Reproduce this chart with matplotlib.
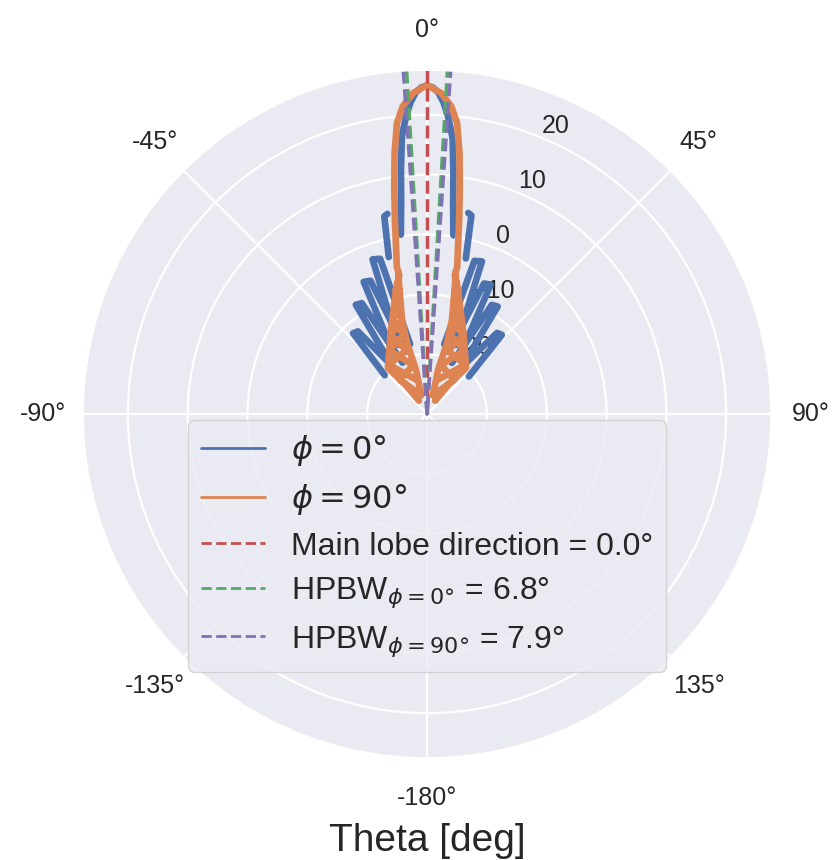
import matplotlib
matplotlib.use("Agg")
import matplotlib.pyplot as plt
import numpy as np
import seaborn as sns

sns.set_theme(style="darkgrid")
plt.rcParams["font.family"] = ["Liberation Sans", "DejaVu Sans"]
plt.rcParams["grid.linewidth"] = 1.6

# gain values below the -30 dB floor (-40 here) are not drawn by the polar axes
FLOOR_GAP = -40

# phi = 0 cut (theta in degrees, gain in dB)
theta_phi0 = [-47.5, -42.5, -39.9, -34.5, -34.0,
              -36.0, -33.1, -30.5, -25.5, -25.0,
              -29.0, -25.6, -23.0, -18.5, -18.3,
              -22.5, -19.4, -16.8, -13.6, -13.5,
              -13.7, -12.2, -11.2, -10.6,
              -9.0, -8.3, -7.0, -6.1, -5.2, -4.0, -3.0, -2.0, -1.0, 0.0,
              1.0, 2.0, 3.0, 4.0, 5.3, 6.2, 7.1, 8.4, 9.1,
              10.9, 11.6, 12.6, 14.0,
              13.8, 13.9, 17.2, 19.8, 22.8,
              18.7, 19.1, 23.6, 26.2, 29.3,
              25.7, 26.0, 30.7, 33.3, 36.3,
              34.7, 35.1, 40.8, 43.4, 48.1]
gain_phi0 = [-20.4, -11.7, -12.0, -21.5, FLOOR_GAP,
             -20.0, -8.2, -8.5, -20.5, FLOOR_GAP,
             -18.5, -5.5, -5.8, -19.0, FLOOR_GAP,
             -17.5, -2.6, -2.9, -18.0, FLOOR_GAP,
             -3.0, 3.8, 4.1, FLOOR_GAP,
             FLOOR_GAP, 0.3, 5.5, 11.0, 16.5, 20.0, 22.2, 23.8, 24.6, 24.9,
             24.6, 23.8, 22.2, 20.0, 16.3, 10.8, 5.3, 0.2, FLOOR_GAP,
             FLOOR_GAP, 4.3, 4.0, -3.2,
             FLOOR_GAP, -18.0, -3.2, -2.9, -17.5,
             FLOOR_GAP, -19.0, -6.2, -5.9, -18.5,
             FLOOR_GAP, -20.5, -8.8, -8.5, -20.0,
             FLOOR_GAP, -21.5, -12.1, -11.8, -20.6]

# phi = 90 cut
theta_phi90 = [-17.5, -14.0, -15.7, -14.9, -12.1, -11.4,
               -11.0,
               -17.5, -38.5, -15.9, -30.6, -16.2, -20.1, -13.6, -14.3,
               -14.0,
               -16.4, -37.8, -17.9, -24.7, -14.9, -16.7, -12.4,
               -12.0,
               -31.6, -36.3, -40.3, -31.9, -23.2, -16.4, -12.8, -11.3,
               -11.6, -10.5, -9.4, -8.2, -7.1, -5.9, -4.5, -2.5, 0.0,
               2.5, 4.5, 5.9, 7.1, 8.2, 9.4, 10.5, 11.6,
               11.3, 12.8, 16.4, 23.2, 31.9, 40.3, 36.3, 31.6,
               12.0,
               12.4, 16.7, 14.9, 24.7, 17.9, 37.8, 16.4,
               14.0,
               14.3, 13.6, 20.1, 16.2, 30.6, 15.9, 38.5, 17.5,
               11.0,
               11.4, 12.1, 14.9, 15.7, 14.0, 17.5]
gain_phi90 = [-26.7, -22.4, -17.7, -13.8, -7.6, -6.0,
              FLOOR_GAP,
              -26.7, -22.7, -21.5, -17.6, -16.2, -13.3, -11.3, -8.6,
              FLOOR_GAP,
              -24.1, -19.6, -18.8, -15.5, -13.7, -11.0, -8.8,
              FLOOR_GAP,
              -27.4, -23.8, -19.9, -18.0, -14.7, -10.7, -7.5, -6.3,
              -4.9, -1.6, 2.9, 8.4, 13.9, 18.9, 21.6, 23.7, 25.0,
              23.7, 21.6, 18.9, 13.9, 8.4, 2.9, -1.6, -4.9,
              -6.3, -7.5, -10.7, -14.7, -18.0, -19.9, -23.8, -27.4,
              FLOOR_GAP,
              -8.8, -11.0, -13.7, -15.5, -18.8, -19.6, -24.1,
              FLOOR_GAP,
              -8.6, -11.3, -13.3, -16.2, -17.6, -21.5, -22.7, -26.7,
              FLOOR_GAP,
              -6.0, -7.6, -13.8, -17.7, -22.4, -26.7]

main_lobe_dir = 0.0
hpbw_phi0 = 6.8
hpbw_phi90 = 7.9

r_min, r_max = -30, 27.5
r_ticks = [-20, -10, 0, 10, 20]
theta_ticks = [0, 45, 90, 135, 180, 225, 270, 315]
theta_labels = ["0°", "45°", "90°", "135°", "-180°", "-135°", "-90°", "-45°"]

pal = sns.color_palette("deep")

fig = plt.figure(figsize=(8.36, 8.6), dpi=100)
ax = fig.add_axes([0.0993, 0.1186, 0.823, 0.8], projection="polar")
ax.set_theta_zero_location("N")
ax.set_theta_direction(-1)

ax.plot(np.deg2rad(theta_phi0), gain_phi0, color=pal[0], lw=4.8,
        solid_capstyle="round", label=r"$\phi = 0°$")
ax.plot(np.deg2rad(theta_phi90), gain_phi90, color=pal[1], lw=4.8,
        solid_capstyle="round", label=r"$\phi = 90°$")

ax.plot(np.deg2rad([main_lobe_dir, main_lobe_dir]), [r_min, r_max], "--",
        color=pal[3], lw=2.5, label=f"Main lobe direction = {main_lobe_dir:.1f}°")
h0 = np.deg2rad([main_lobe_dir - hpbw_phi0 / 2, main_lobe_dir + hpbw_phi0 / 2])
ax.plot([h0[0], h0[0], h0[1], h0[1]], [r_max, r_min, r_min, r_max], "--",
        color=pal[2], lw=2.5, label=r"HPBW$_{\phi = 0°}$ = " + f"{hpbw_phi0:.1f}°")
h90 = np.deg2rad([main_lobe_dir - hpbw_phi90 / 2, main_lobe_dir + hpbw_phi90 / 2])
ax.plot([h90[0], h90[0], h90[1], h90[1]], [r_max, r_min, r_min, r_max], "--",
        color=pal[4], lw=2.5, label=r"HPBW$_{\phi = 90°}$ = " + f"{hpbw_phi90:.1f}°")

ax.set_rlim(r_min, r_max)
ax.set_rticks(r_ticks)
ax.set_thetagrids(theta_ticks, theta_labels)
ax.tick_params(axis="x", labelsize=18, pad=16)
ax.tick_params(axis="y", labelsize=18)
ax.set_xlabel("Theta [deg]", fontsize=28, labelpad=9)

leg = ax.legend(loc="upper center", bbox_to_anchor=(0.5, 0.514), fontsize=23,
                labelspacing=0.445)
for line in leg.get_lines():
    line.set_linewidth(2)

fig.savefig("out.png", dpi=100)
